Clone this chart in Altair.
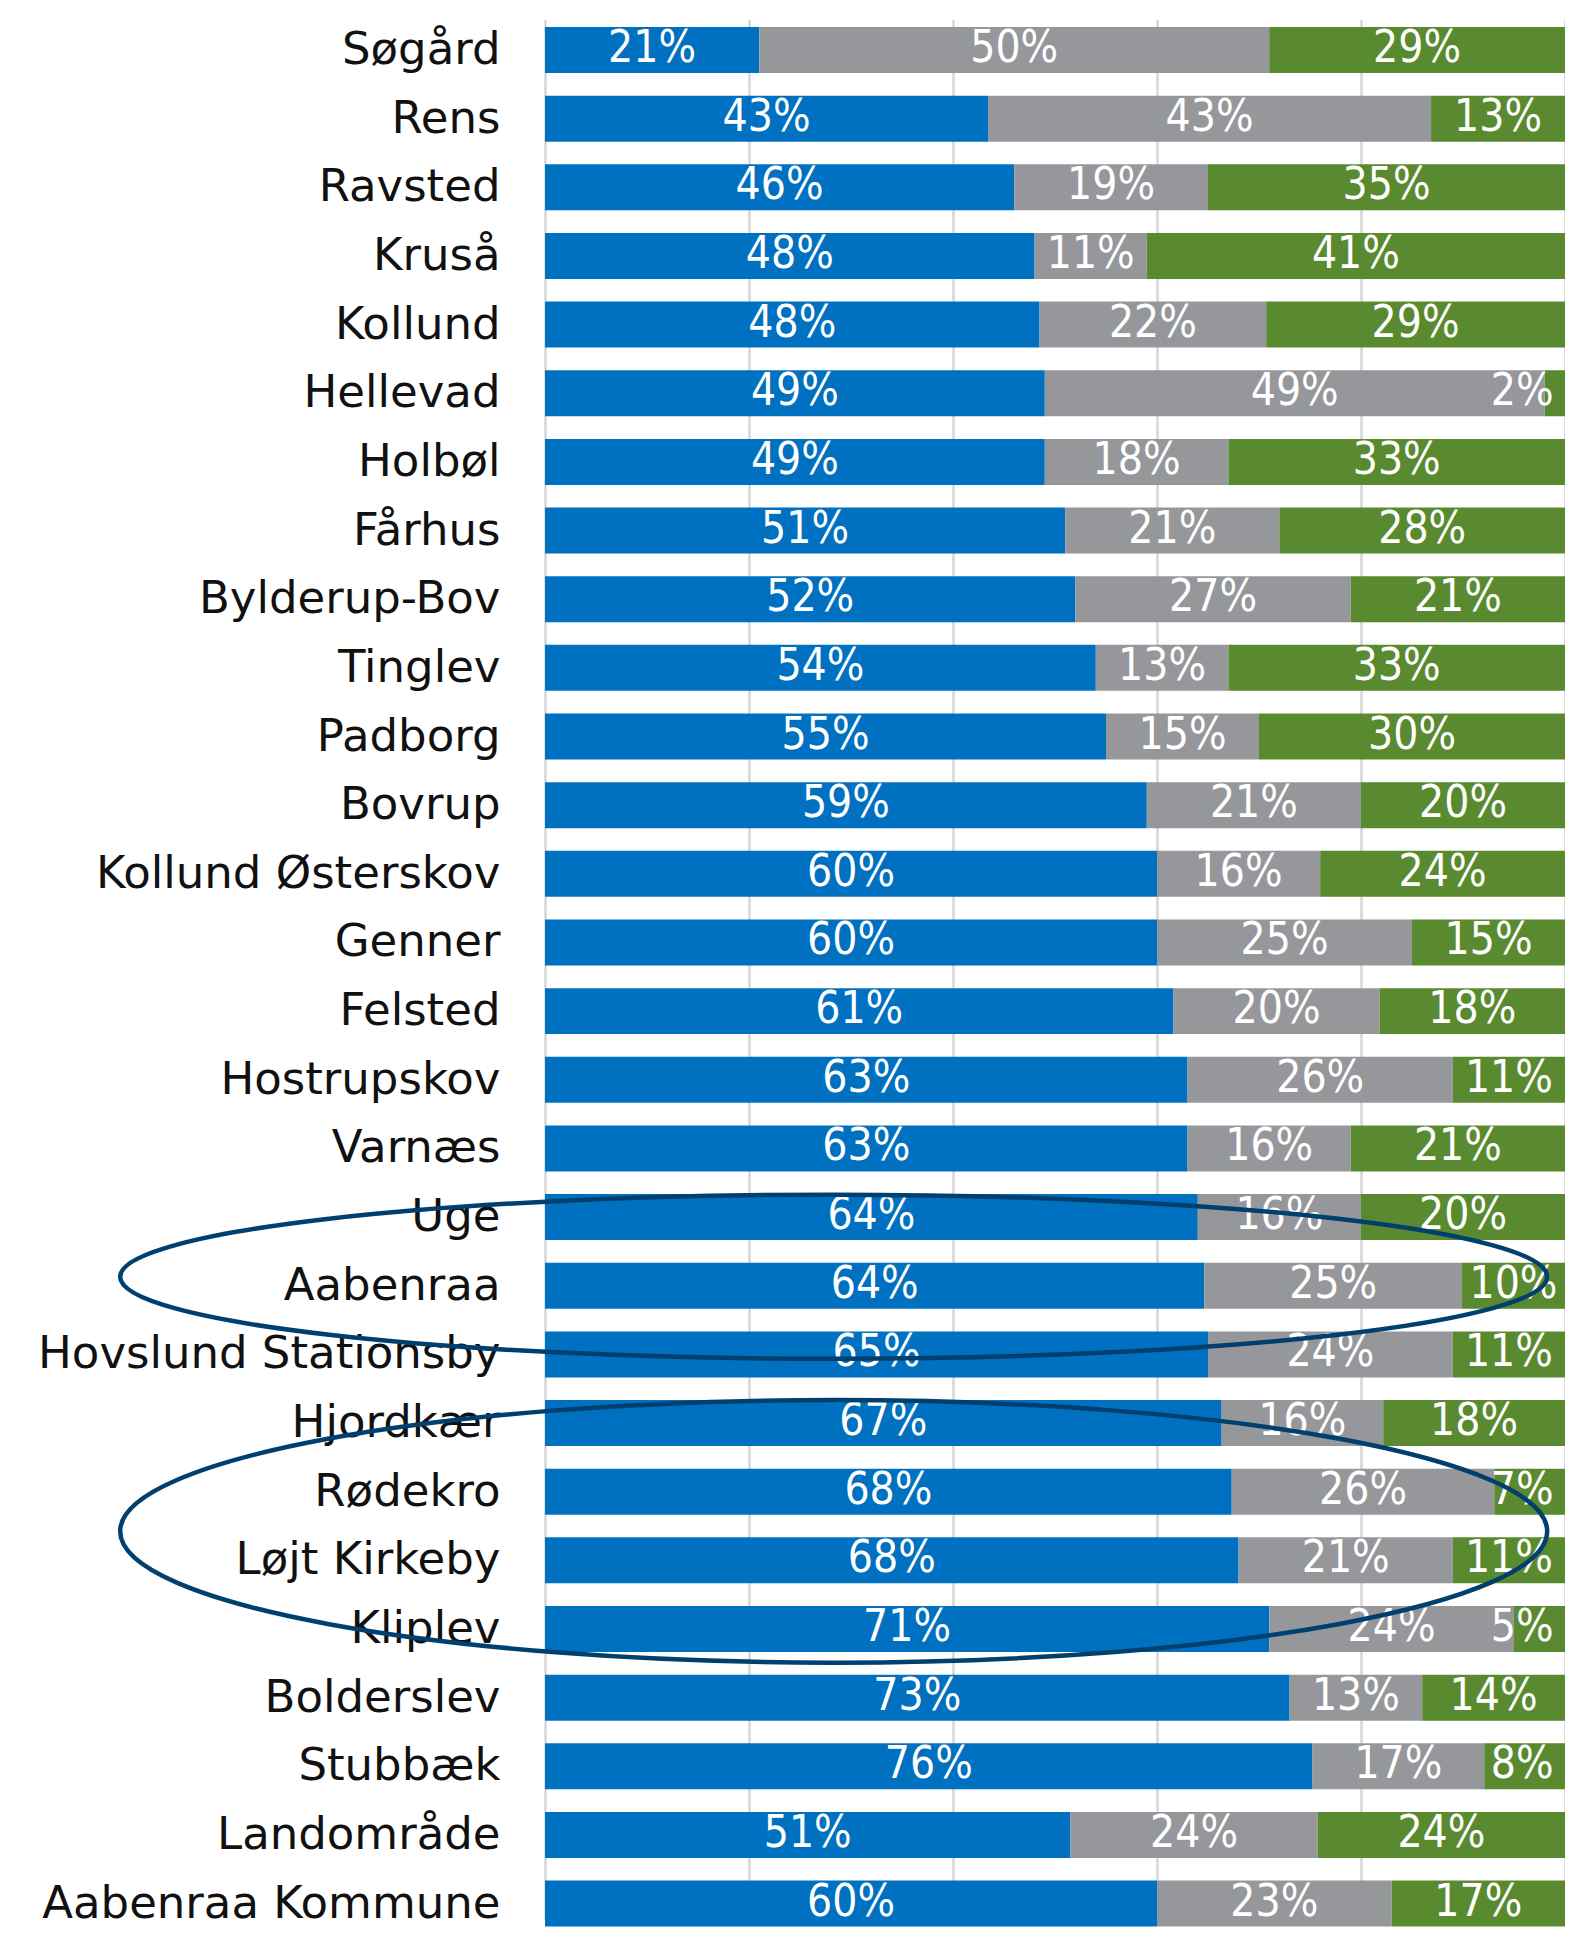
import altair as alt
import pandas as pd

places = [
    "Søgård", "Rens", "Ravsted", "Kruså", "Kollund", "Hellevad", "Holbøl",
    "Fårhus", "Bylderup-Bov", "Tinglev", "Padborg", "Bovrup",
    "Kollund Østerskov", "Genner", "Felsted", "Hostrupskov", "Varnæs", "Uge",
    "Aabenraa", "Hovslund Stationsby", "Hjordkær", "Rødekro", "Løjt Kirkeby",
    "Kliplev", "Bolderslev", "Stubbæk", "Landområde", "Aabenraa Kommune",
]
blue = [21, 43, 46, 48, 48, 49, 49, 51, 52, 54, 55, 59, 60, 60, 61, 63, 63,
        64, 64, 65, 67, 68, 68, 71, 73, 76, 51, 60]
gray = [50, 43, 19, 11, 22, 49, 18, 21, 27, 13, 15, 21, 16, 25, 20, 26, 16,
        16, 25, 24, 16, 26, 21, 24, 13, 17, 24, 23]
green = [29, 13, 35, 41, 29, 2, 33, 28, 21, 33, 30, 20, 24, 15, 18, 11, 21,
         20, 10, 11, 18, 7, 11, 5, 14, 8, 24, 17]
series = ["Andel 1", "Andel 2", "Andel 3"]
colors = ["#0070C0", "#96979B", "#5A8A2F"]

# highlighted groups (ellipses): anchor row, vertical nudge, relative height
ell_rows = ["Aabenraa", "Løjt Kirkeby"]
ell_dy = [-9, -29]
ell_ratio = [0.115, 0.184]
ell_x = 0.283

rows = []
for i, p in enumerate(places):
    vals = [blue[i], gray[i], green[i]]
    tot = sum(vals)
    start = 0.0
    for s, v in zip(series, vals):
        end = start + v / tot
        rows.append(dict(place=p, series=s, value=v, start=start, end=end,
                         mid=min((start + end) / 2, 0.958), label=f"{v}%"))
        start = end
df = pd.DataFrame(rows)

W = 1020
yscale = alt.Scale(range=[14, 1913.6], paddingInner=0.33, paddingOuter=0)
xscale = alt.Scale(domain=[0, 1], nice=False, zero=True)

ycommon = alt.Y("place:N", sort=places, scale=yscale, title=None,
                axis=alt.Axis(domain=False, ticks=False, grid=False,
                              labelFont="DejaVu Sans", labelFontSize=45,
                              labelColor="#111111", labelPadding=45,
                              labelLimit=1000))

bars = alt.Chart(df).mark_bar().encode(
    x=alt.X("start:Q", scale=xscale, title=None,
            axis=alt.Axis(values=[0, 0.2, 0.4, 0.6, 0.8, 1.0], labels=False,
                          ticks=False, domain=False, grid=True,
                          gridColor="#d6d6d6", gridWidth=2.5)),
    x2="end:Q",
    y=ycommon,
    color=alt.Color("series:N", scale=alt.Scale(domain=series, range=colors),
                    legend=None),
)

texts = alt.Chart(df).mark_text(
    color="white", font="DejaVu Sans Condensed, Liberation Sans Narrow, DejaVu Sans",
    fontSize=44, align="center", baseline="middle", dy=-1,
).encode(
    x=alt.X("mid:Q", scale=xscale),
    y=alt.Y("place:N", sort=places, scale=yscale),
    text="label:N",
)


def ellipse_path(r):
    k = 0.5523
    return (f"M -1 0 C -1 {-k*r:.4f} {-k:.4f} {-r:.4f} 0 {-r:.4f} "
            f"C {k:.4f} {-r:.4f} 1 {-k*r:.4f} 1 0 "
            f"C 1 {k*r:.4f} {k:.4f} {r:.4f} 0 {r:.4f} "
            f"C {-k:.4f} {r:.4f} -1 {k*r:.4f} -1 0 Z")


ell_layers = []
for place, dy, ratio in zip(ell_rows, ell_dy, ell_ratio):
    edf = pd.DataFrame({"place": [place], "x": [ell_x]})
    ell_layers.append(
        alt.Chart(edf).mark_point(
            shape=ellipse_path(ratio), filled=False, stroke="#003F6E",
            strokeWidth=4.5, opacity=1, size=1427 ** 2, yOffset=dy,
        ).encode(
            x=alt.X("x:Q", scale=xscale),
            y=alt.Y("place:N", sort=places, scale=yscale),
        )
    )

chart = alt.layer(bars, texts, *ell_layers).properties(
    width=W, height=1920,
    autosize=alt.AutoSizeParams(type="none"),
    padding={"left": 537, "top": 5, "right": 0, "bottom": 0},
).configure_view(stroke=None)

chart.save("out.html", embed_options={"renderer": "svg", "actions": False})
